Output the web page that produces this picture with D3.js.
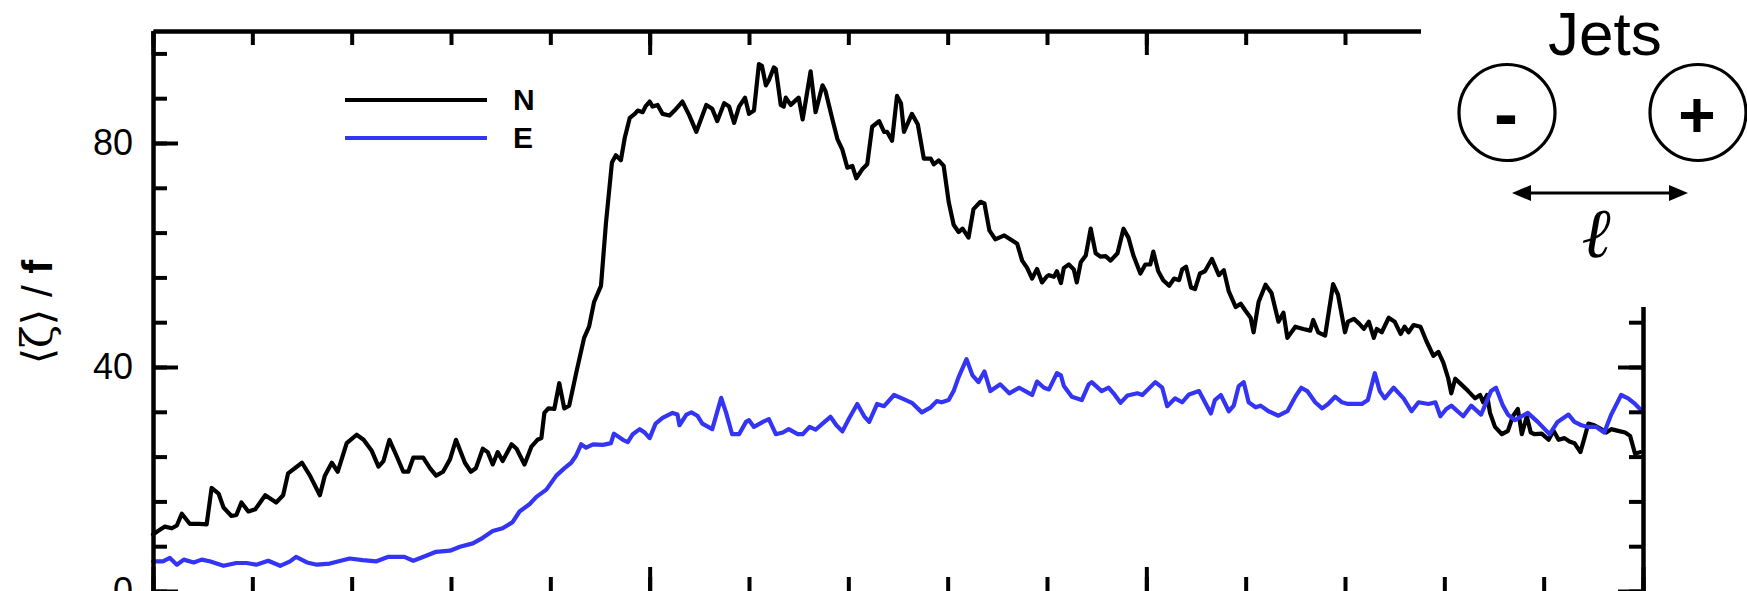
<!DOCTYPE html>
<html>
<head>
<meta charset="utf-8">
<script src="https://cdn.jsdelivr.net/npm/d3@7"></script>
<style>
  html, body { margin: 0; padding: 0; background: #fff; overflow: hidden; }
</style>
</head>
<body>
<svg id="chart" width="1747" height="591"></svg>
<script>
// ── Data ─────────────────────────────────────────────────────────────────────
var seriesNames  = ['N', 'E'];
var seriesColors = ['#000000', '#3434f4'];

// [time, <zeta>/f]
var nData = [
  [0.00,10.1],[0.05,10.7],[0.12,11.5],[0.19,11.2],[0.24,11.7],[0.29,13.8],[0.37,12.0],[0.47,12.0],
  [0.54,11.9],[0.59,18.4],[0.66,17.4],[0.71,14.9],[0.79,13.4],[0.84,13.6],[0.89,15.8],[0.96,14.2],
  [1.03,14.6],[1.13,17.1],[1.24,15.8],[1.31,17.1],[1.36,21.0],[1.50,22.9],[1.58,20.6],[1.68,17.1],
  [1.73,20.6],[1.80,22.9],[1.86,21.3],[1.95,26.4],[2.05,27.9],[2.12,27.0],[2.20,25.1],[2.27,22.2],
  [2.32,23.2],[2.38,27.0],[2.45,24.2],[2.52,21.3],[2.57,21.3],[2.62,23.8],[2.72,23.8],[2.79,21.9],
  [2.85,20.6],[2.92,21.3],[2.99,23.5],[3.05,27.0],[3.14,22.9],[3.20,21.3],[3.25,21.9],[3.32,25.4],
  [3.37,24.8],[3.42,22.6],[3.47,24.8],[3.52,23.2],[3.61,26.2],[3.66,25.4],[3.74,22.6],[3.81,25.8],
  [3.87,27.0],[3.91,27.3],[3.94,31.8],[3.98,32.6],[4.04,32.5],[4.09,37.1],[4.14,32.6],[4.19,33.1],
  [4.26,38.9],[4.34,45.2],[4.39,47.2],[4.44,51.6],[4.51,54.5],[4.56,65.7],[4.62,76.5],[4.66,77.8],
  [4.71,76.9],[4.75,81.0],[4.80,84.5],[4.85,85.2],[4.88,85.8],[4.93,85.5],[4.96,86.6],[5.00,87.4],
  [5.03,86.5],[5.08,86.8],[5.13,85.2],[5.20,84.9],[5.25,85.8],[5.33,87.4],[5.40,84.9],[5.47,82.0],
  [5.57,86.8],[5.63,86.1],[5.68,83.9],[5.75,87.1],[5.80,86.5],[5.85,83.6],[5.90,86.5],[5.96,88.1],
  [6.00,85.2],[6.05,85.8],[6.10,94.1],[6.13,93.8],[6.17,90.3],[6.20,91.2],[6.25,93.5],[6.27,93.2],
  [6.32,86.8],[6.35,86.5],[6.37,88.1],[6.42,86.8],[6.50,88.1],[6.54,84.2],[6.57,87.4],[6.62,92.8],
  [6.67,85.5],[6.74,90.3],[6.77,89.3],[6.84,84.2],[6.89,80.7],[6.94,78.8],[6.99,75.6],[7.04,75.9],
  [7.08,73.7],[7.14,75.3],[7.19,76.2],[7.24,82.9],[7.31,83.9],[7.36,82.0],[7.39,82.0],[7.44,80.4],
  [7.49,88.4],[7.53,87.1],[7.56,82.0],[7.64,85.2],[7.70,83.3],[7.76,77.2],[7.83,77.2],[7.86,76.2],
  [7.91,76.9],[7.96,75.9],[8.01,69.5],[8.06,65.4],[8.11,64.1],[8.15,64.7],[8.21,63.1],[8.26,68.2],
  [8.33,69.5],[8.37,69.2],[8.42,64.4],[8.48,62.8],[8.57,63.5],[8.63,62.8],[8.70,62.0],[8.75,59.0],
  [8.80,57.7],[8.85,55.8],[8.90,57.5],[8.95,55.1],[9.00,56.2],[9.02,56.4],[9.07,56.1],[9.10,57.1],
  [9.14,55.0],[9.17,57.7],[9.22,58.3],[9.27,57.4],[9.30,55.1],[9.34,58.7],[9.39,59.9],[9.44,64.7],
  [9.49,60.3],[9.54,59.7],[9.59,59.8],[9.64,59.0],[9.71,60.3],[9.77,64.7],[9.82,63.1],[9.87,59.9],
  [9.94,56.7],[9.99,58.3],[10.04,58.3],[10.07,60.6],[10.12,57.1],[10.17,55.5],[10.23,54.5],[10.28,55.8],
  [10.33,55.5],[10.36,57.4],[10.40,57.9],[10.45,54.2],[10.49,53.9],[10.54,56.7],[10.59,57.1],[10.66,59.3],
  [10.73,56.4],[10.78,57.3],[10.83,53.5],[10.90,50.7],[10.95,51.3],[11.00,50.0],[11.05,48.8],[11.08,46.2],
  [11.13,51.6],[11.20,54.7],[11.26,53.2],[11.33,48.1],[11.38,49.7],[11.42,45.2],[11.50,47.2],[11.58,46.8],
  [11.65,46.5],[11.68,48.4],[11.73,46.2],[11.80,45.6],[11.88,54.8],[11.93,52.9],[12.00,46.2],[12.03,48.1],
  [12.09,48.6],[12.14,47.8],[12.19,46.8],[12.24,48.1],[12.29,45.2],[12.32,46.8],[12.37,46.2],[12.44,48.8],
  [12.50,48.1],[12.56,45.9],[12.60,47.2],[12.64,46.2],[12.69,47.5],[12.76,47.2],[12.82,44.6],[12.89,42.0],
  [12.94,42.7],[12.99,40.8],[13.04,37.9],[13.07,35.3],[13.11,37.9],[13.17,36.9],[13.24,35.7],[13.31,34.4],
  [13.36,35.0],[13.39,33.7],[13.43,35.0],[13.46,31.8],[13.51,29.3],[13.58,28.0],[13.64,28.6],[13.69,31.2],
  [13.74,32.5],[13.78,28.0],[13.83,31.2],[13.87,28.3],[13.91,28.0],[13.98,28.1],[14.05,27.0],[14.10,28.6],
  [14.15,27.0],[14.21,27.3],[14.26,26.7],[14.31,26.4],[14.37,24.8],[14.41,27.3],[14.45,29.9],[14.51,29.6],
  [14.58,28.9],[14.63,28.3],[14.68,28.9],[14.75,28.6],[14.82,28.3],[14.87,27.7],[14.92,24.5],[14.97,24.8]
];

var eData = [
  [0.00,5.3],[0.10,5.3],[0.17,5.9],[0.24,4.7],[0.31,5.6],[0.41,5.1],[0.49,5.6],[0.57,5.3],
  [0.71,4.5],[0.84,5.0],[0.94,5.0],[1.04,4.7],[1.16,5.4],[1.28,4.5],[1.38,5.3],[1.44,6.1],
  [1.55,5.1],[1.65,4.7],[1.78,4.9],[1.98,5.8],[2.11,5.5],[2.25,5.3],[2.37,6.1],[2.53,6.1],
  [2.62,5.4],[2.75,6.3],[2.85,7.0],[2.99,7.2],[3.09,7.9],[3.22,8.5],[3.32,9.5],[3.42,10.7],
  [3.52,11.2],[3.62,12.3],[3.69,14.2],[3.79,15.5],[3.86,16.8],[3.96,18.1],[4.06,20.6],[4.14,21.9],
  [4.21,22.9],[4.26,24.2],[4.31,26.2],[4.36,25.6],[4.43,26.2],[4.53,26.1],[4.61,26.4],[4.64,28.1],
  [4.73,27.0],[4.78,26.6],[4.83,28.0],[4.90,28.9],[4.95,28.3],[5.00,27.3],[5.06,29.9],[5.13,30.9],
  [5.23,31.8],[5.28,31.5],[5.30,29.6],[5.37,31.5],[5.42,31.9],[5.48,31.3],[5.53,29.9],[5.63,28.9],
  [5.72,34.5],[5.77,31.8],[5.83,28.0],[5.90,28.0],[5.97,30.2],[6.00,30.5],[6.05,29.3],[6.14,30.2],
  [6.20,30.7],[6.27,28.0],[6.34,28.3],[6.40,28.9],[6.49,28.0],[6.54,28.0],[6.61,29.3],[6.67,28.8],
  [6.74,29.9],[6.82,31.1],[6.88,29.6],[6.94,28.5],[7.01,30.9],[7.09,33.4],[7.16,31.2],[7.21,30.2],
  [7.29,33.4],[7.36,33.0],[7.46,35.0],[7.54,34.4],[7.64,33.6],[7.74,31.9],[7.83,32.8],[7.89,33.9],
  [7.94,33.7],[8.01,34.1],[8.06,35.7],[8.11,38.2],[8.19,41.4],[8.25,38.5],[8.31,37.3],[8.37,39.2],
  [8.43,35.7],[8.53,36.9],[8.62,35.3],[8.72,36.3],[8.80,35.5],[8.85,35.0],[8.90,37.4],[8.97,36.3],
  [9.02,36.0],[9.10,38.9],[9.14,38.5],[9.17,36.6],[9.25,34.7],[9.35,34.1],[9.42,36.9],[9.45,37.3],
  [9.55,35.7],[9.62,36.3],[9.67,35.3],[9.74,33.6],[9.81,34.9],[9.91,35.3],[9.96,35.0],[10.09,37.3],
  [10.16,36.3],[10.21,33.0],[10.29,34.4],[10.36,33.7],[10.43,35.1],[10.53,35.7],[10.59,33.7],[10.65,31.7],
  [10.69,34.1],[10.75,35.0],[10.83,32.1],[10.88,33.1],[10.93,36.6],[10.98,37.3],[11.03,33.7],[11.10,32.8],
  [11.15,33.1],[11.23,32.1],[11.33,31.3],[11.42,32.1],[11.50,34.7],[11.56,36.3],[11.62,35.7],[11.70,33.7],
  [11.77,32.6],[11.83,33.4],[11.90,34.7],[11.97,33.7],[12.03,33.4],[12.17,33.4],[12.23,34.1],[12.30,38.9],
  [12.35,35.7],[12.40,34.4],[12.49,36.3],[12.59,34.4],[12.67,32.1],[12.74,33.7],[12.84,33.4],[12.91,33.7],
  [12.96,31.2],[13.02,32.5],[13.07,33.1],[13.19,31.2],[13.27,33.1],[13.37,31.5],[13.47,35.7],[13.52,36.3],
  [13.59,33.1],[13.64,31.5],[13.71,30.5],[13.84,31.8],[13.94,30.2],[14.06,28.0],[14.14,30.2],[14.25,31.5],
  [14.31,30.2],[14.38,29.6],[14.45,29.3],[14.53,29.3],[14.61,28.3],[14.68,31.5],[14.78,35.0],[14.85,34.4],
  [14.92,33.4],[14.97,32.5]
];

var yAllTicks   = [0, 8, 16, 24, 32, 40, 48, 56, 64, 72, 80, 88, 96];
var yMajorTicks = [0, 40, 80];
var xAllTicks   = [0, 1, 2, 3, 4, 5, 6, 7, 8, 9, 10, 11, 12, 13, 14, 15];
var xMajorTicks = [0, 5, 10, 15];

// ── Layout ───────────────────────────────────────────────────────────────────
// (plotT etc. — "top" is a read-only window global, don't use it)
var W = 1747, H = 591;
var plotL = 153, plotR = 1643, plotT = 31, plotB = 591;
var AXIS_W = 4;
var SANS = '"Liberation Sans", Arial, sans-serif';

var svg = d3.select('#chart');

var x = d3.scaleLinear().domain([0, 15]).range([plotL, plotR]);
var y = d3.scaleLinear().domain([0, 100]).range([plotB, plotT]);

// ── Series ───────────────────────────────────────────────────────────────────
var line = d3.line()
  .x(function(d) { return x(d[0]); })
  .y(function(d) { return y(d[1]); });

[nData, eData].forEach(function(data, i) {
  svg.append('path')
    .datum(data)
    .attr('d', line)
    .attr('fill', 'none')
    .attr('stroke', seriesColors[i])
    .attr('stroke-width', 4.2)
    .attr('stroke-linejoin', 'round')
    .attr('stroke-linecap', 'round');
});

// ── Axes (ticks point inward) ────────────────────────────────────────────────
function styleAxis(g) {
  g.selectAll('path.domain').attr('stroke', '#000').attr('stroke-width', AXIS_W);
  g.selectAll('.tick line').attr('stroke', '#000').attr('stroke-width', AXIS_W);
}

function addAxis(axisFn, tf, vals, size, labels) {
  var a = axisFn.tickValues(vals).tickSize(size).tickSizeOuter(0);
  if (!labels) a.tickFormat('');
  var g = svg.append('g').attr('transform', tf).call(a);
  styleAxis(g);
  return g;
}

// left
addAxis(d3.axisLeft(y), 'translate(' + plotL + ',0)', yAllTicks, -14, false);
var gl = addAxis(d3.axisLeft(y).tickPadding(20), 'translate(' + plotL + ',0)', yMajorTicks, -25, true);
gl.selectAll('text')
  .attr('font-family', SANS)
  .attr('font-size', 36)
  .attr('fill', '#000');

// right
addAxis(d3.axisRight(y), 'translate(' + plotR + ',0)', yAllTicks, -14, false);
addAxis(d3.axisRight(y), 'translate(' + plotR + ',0)', yMajorTicks, -25, false);

// top
addAxis(d3.axisTop(x), 'translate(0,' + plotT + ')', xAllTicks, -14, false);
addAxis(d3.axisTop(x), 'translate(0,' + plotT + ')', xMajorTicks, -24, false);

// bottom (its line falls outside the picture)
var gb1 = addAxis(d3.axisBottom(x), 'translate(0,' + plotB + ')', xAllTicks, -14, false);
var gb2 = addAxis(d3.axisBottom(x), 'translate(0,' + plotB + ')', xMajorTicks, -24, false);
gb1.select('path.domain').remove();
gb2.select('path.domain').remove();

// y label
var ylab = svg.append('text')
  .attr('transform', 'translate(52,312) rotate(-90)')
  .attr('text-anchor', 'middle')
  .attr('font-family', SANS)
  .attr('font-size', 42)
  .attr('fill', '#000');
ylab.append('tspan').attr('font-family', '"DejaVu Serif", serif').attr('font-weight', 300).text('\u27E8\u03B6\u27E9');
ylab.append('tspan').text(' / ');
ylab.append('tspan').attr('font-weight', 'bold').text('f');

// ── Legend ───────────────────────────────────────────────────────────────────
var legend = svg.append('g');
seriesNames.forEach(function(name, i) {
  var ly = 100 + i * 38;
  legend.append('line')
    .attr('x1', 345).attr('x2', 487)
    .attr('y1', ly).attr('y2', ly)
    .attr('stroke', seriesColors[i])
    .attr('stroke-width', 4.2);
  legend.append('text')
    .attr('x', 513).attr('y', ly + 10)
    .attr('font-family', SANS)
    .attr('font-weight', 'bold')
    .attr('font-size', 30)
    .attr('fill', '#000')
    .text(name);
});

// ── Inset: jet sketch (covers top-right corner of the frame) ────────────────
svg.append('rect')
  .attr('x', 1421).attr('y', 0)
  .attr('width', W - 1421).attr('height', 307)
  .attr('fill', '#fff');

var inset = svg.append('g');
inset.append('text')
  .attr('x', 1548).attr('y', 55)
  .attr('font-family', SANS)
  .attr('font-size', 62)
  .attr('fill', '#000')
  .text('Jets');

var jets = [{ cx: 1507, sign: '-' }, { cx: 1698, sign: '+' }];
jets.forEach(function(j) {
  inset.append('circle')
    .attr('cx', j.cx).attr('cy', 112.5).attr('r', 48)
    .attr('fill', 'none')
    .attr('stroke', '#000')
    .attr('stroke-width', 3.2);
  inset.append('text')
    .attr('x', j.cx - 1).attr('y', j.sign === '-' ? 138 : 137)
    .attr('text-anchor', 'middle')
    .attr('font-family', SANS)
    .attr('font-weight', 'bold')
    .attr('font-size', j.sign === '-' ? 72 : 64)
    .attr('fill', '#000')
    .text(j.sign);
});

// double arrow
var ay = 193;
inset.append('line')
  .attr('x1', 1525).attr('x2', 1675)
  .attr('y1', ay).attr('y2', ay)
  .attr('stroke', '#000').attr('stroke-width', 3);
inset.append('path')
  .attr('d', 'M1512,' + ay + 'L1531,' + (ay - 8) + 'L1531,' + (ay + 8) + 'Z')
  .attr('fill', '#000');
inset.append('path')
  .attr('d', 'M1688,' + ay + 'L1669,' + (ay - 8) + 'L1669,' + (ay + 8) + 'Z')
  .attr('fill', '#000');

inset.append('text')
  .attr('x', 1596).attr('y', 257)
  .attr('text-anchor', 'middle')
  .attr('font-family', '"DejaVu Serif", serif')
  .attr('font-style', 'italic')
  .attr('font-size', 70)
  .attr('fill', '#000')
  .text('\u2113');
</script>
</body>
</html>
